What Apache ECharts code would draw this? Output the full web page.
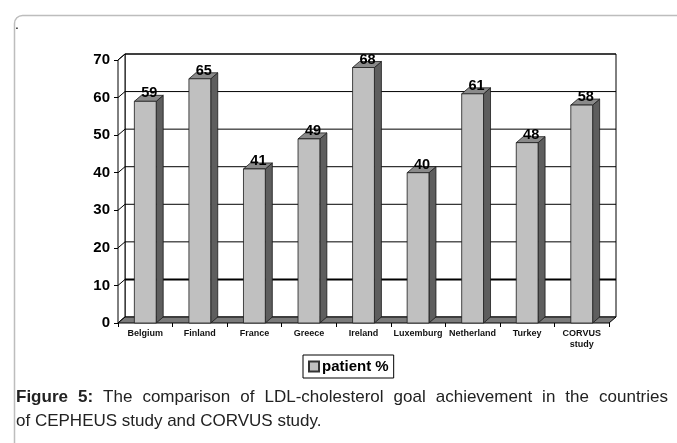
<!DOCTYPE html>
<html>
<head>
<meta charset="utf-8">
<script src="https://cdn.jsdelivr.net/npm/echarts@6/dist/echarts.min.js"></script>
<style>
html,body{margin:0;padding:0;background:#fff;}
#chart{width:677px;height:443px;}
</style>
</head>
<body>
<div id="chart"></div>
<script>
const categories = ['Belgium','Finland','France','Greece','Ireland','Luxemburg','Netherland','Turkey','CORVUS\nstudy'];
const patientPct = [59, 65, 41, 49, 68, 40, 61, 48, 58];
const yTicks = [0, 10, 20, 30, 40, 50, 60, 70];
const seriesName = 'patient %';
const captionBold = 'Figure 5:';
const captionLine1 = 'The comparison of LDL-cholesterol goal achievement in the countries';
const captionLine2 = 'of CEPHEUS study and CORVUS study.';

const FONT = '"Liberation Sans", Arial, Helvetica, sans-serif';
const DX = 7, DY = -6; // 3D depth offset (style)

const chart = echarts.init(document.getElementById('chart'), null, {renderer: 'canvas'});

function wallItem(params, api) {
  const cs = params.coordSys;
  const x0 = cs.x, x1 = cs.x + cs.width;
  const yb = api.coord([0, 0])[1];
  const yt = api.coord([0, yTicks[yTicks.length - 1]])[1];
  const children = [];
  children.push({type: 'rect', shape: {x: x0 + DX, y: yt + DY, width: x1 - x0, height: yb - yt},
    style: {fill: '#ffffff', stroke: '#000', lineWidth: 1}, z2: 1});
  children.push({type: 'polygon', shape: {points: [[x0, yb], [x0 + DX, yb + DY], [x0 + DX, yt + DY], [x0, yt]]},
    style: {fill: '#ffffff', stroke: '#000', lineWidth: 1}, z2: 2});
  yTicks.forEach(function (t) {
    const y = api.coord([0, t])[1];
    const w = (t === 10) ? 2 : 1;
    if (t > 0) {
      children.push({type: 'line', shape: {x1: x0 + DX, y1: y + DY, x2: x1 + DX, y2: y + DY},
        style: {stroke: '#000', lineWidth: w}, z2: 3});
    }
    children.push({type: 'line', shape: {x1: x0, y1: y, x2: x0 + DX, y2: y + DY},
      style: {stroke: '#000', lineWidth: 1}, z2: 3});
  });
  children.push({type: 'polygon', shape: {points: [[x0, yb], [x1, yb], [x1 + DX, yb + DY], [x0 + DX, yb + DY]]},
    style: {fill: '#7a7a7a', stroke: '#000', lineWidth: 1}, z2: 4});
  return {type: 'group', children: children};
}

function barItem(params, api) {
  const i = api.value(0), v = api.value(1);
  const top = api.coord([i, v]);
  const base = api.coord([i, 0]);
  const band = api.size([1, 0])[0];
  const hw = band * 0.2;
  const cx = top[0], yt = top[1], yb = base[1];
  const xl = cx - hw, xr = cx + hw;
  return {type: 'group', children: [
    {type: 'polygon', shape: {points: [[xr, yt], [xr + DX, yt + DY], [xr + DX, yb + DY], [xr, yb]]},
      style: {fill: '#5e5e5e', stroke: '#1a1a1a', lineWidth: 0.8}},
    {type: 'polygon', shape: {points: [[xl, yt], [xl + DX, yt + DY], [xr + DX, yt + DY], [xr, yt]]},
      style: {fill: '#8a8a8a', stroke: '#1a1a1a', lineWidth: 0.8}},
    {type: 'rect', shape: {x: xl, y: yt, width: xr - xl, height: yb - yt},
      style: {fill: '#c0c0c0', stroke: '#1a1a1a', lineWidth: 0.8}},
    {type: 'text', x: cx + 4, y: yt - 8,
      style: {text: String(v), fill: '#000', font: 'bold 14.5px ' + FONT, align: 'center', verticalAlign: 'middle'}}
  ]};
}

// Justified caption line 1 (text layout only)
const capSize = 17;
const measureCtx = document.createElement('canvas').getContext('2d');
const words1 = (captionBold + ' ' + captionLine1).split(' ');
const boldCount = captionBold.split(' ').length;
const widths = words1.map(function (w, k) {
  measureCtx.font = (k < boldCount ? 'bold ' : '') + capSize + 'px ' + FONT;
  return measureCtx.measureText(w).width;
});
const capLeft = 16, capRight = 668;
const totalW = widths.reduce(function (a, b) { return a + b; }, 0);
const gap = (capRight - capLeft - totalW) / (words1.length - 1);
const captionGraphics = [];
let cx0 = capLeft;
words1.forEach(function (w, k) {
  captionGraphics.push({type: 'text', x: cx0, y: 389, silent: true,
    style: {text: w, font: (k < boldCount ? 'bold ' : '') + capSize + 'px ' + FONT, fill: '#222'}});
  cx0 += widths[k] + gap;
});
captionGraphics.push({type: 'text', x: capLeft, y: 413, silent: true,
  style: {text: captionLine2, font: capSize + 'px ' + FONT, fill: '#222'}});

const option = {
  backgroundColor: '#ffffff',
  animation: false,
  grid: {left: 118, top: 60, width: 491, height: 263, containLabel: false},
  xAxis: {
    type: 'category', data: categories, boundaryGap: true,
    axisLine: {show: false},
    axisTick: {show: true, length: 4, alignWithLabel: false, lineStyle: {color: '#000', width: 1}},
    axisLabel: {interval: 0, margin: 5, color: '#111', fontFamily: FONT, fontWeight: 'bold', fontSize: 9, lineHeight: 11},
    splitLine: {show: false}
  },
  yAxis: {
    type: 'value', min: 0, max: 70, interval: 10,
    axisLine: {show: false},
    axisTick: {show: true, length: 4, lineStyle: {color: '#000', width: 1}},
    axisLabel: {margin: 8, color: '#000', fontFamily: FONT, fontWeight: 'bold', fontSize: 15},
    splitLine: {show: false}
  },
  legend: {
    data: [{name: seriesName, icon: 'rect'}],
    left: 303, top: 355,
    itemWidth: 10, itemHeight: 10, itemGap: 4,
    padding: [4, 5, 4, 5],
    borderColor: '#000', borderWidth: 1,
    textStyle: {fontFamily: FONT, fontWeight: 'bold', fontSize: 15, color: '#000', padding: [0, 0, 0, -2]},
    selectedMode: false
  },
  series: [
    {type: 'custom', name: '_walls', data: [[0, 0]], renderItem: wallItem, z: 1, silent: true, encode: {x: 0, y: 1}},
    {type: 'custom', name: seriesName, data: patientPct.map(function (v, i) { return [i, v]; }),
      encode: {x: 0, y: 1}, renderItem: barItem, z: 5,
      itemStyle: {color: '#c0c0c0', borderColor: '#333', borderWidth: 1}}
  ],
  graphic: [
    {type: 'rect', left: 12, top: 13, shape: {x: 0, y: 0, width: 720, height: 480, r: 8},
      style: {fill: 'none', stroke: '#bdbdbd', lineWidth: 1.5}, z: -10, silent: true},
    {type: 'text', x: 15, y: 18, style: {text: '.', font: '14px ' + FONT, fill: '#000'}}
  ].concat(captionGraphics)
};
chart.setOption(option);
</script>
</body>
</html>
